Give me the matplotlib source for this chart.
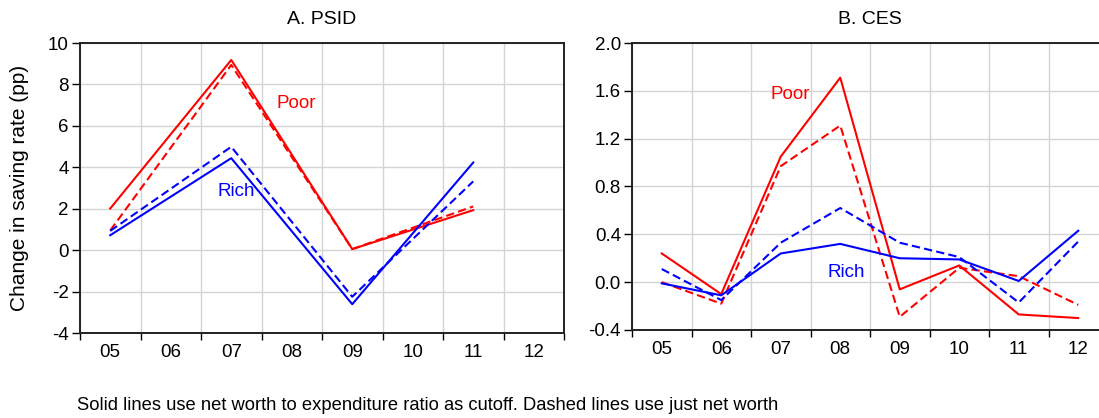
import numpy as np
import matplotlib
matplotlib.use("Agg")
import matplotlib.pyplot as plt
from matplotlib.ticker import FixedLocator, NullFormatter

plt.rcParams['font.family'] = ['Liberation Sans', 'DejaVu Sans']

years = ['05', '06', '07', '08', '09', '10', '11', '12']

# Panel A: PSID (biennial: 05, 07, 09, 11)
psid_idx = [0, 2, 4, 6]
psid_poor_solid = [2.01, 9.18, 0.05, 1.93]
psid_poor_dash = [0.95, 8.94, 0.05, 2.11]
psid_rich_solid = [0.72, 4.44, -2.61, 4.23]
psid_rich_dash = [0.93, 4.99, -2.25, 3.32]

# Panel B: CES (annual 05..12)
ces_idx = list(range(8))
ces_poor_solid = [0.24, -0.10, 1.05, 1.71, -0.06, 0.14, -0.27, -0.30]
ces_poor_dash = [0.00, -0.18, 0.97, 1.31, -0.29, 0.12, 0.05, -0.19]
ces_rich_solid = [-0.01, -0.11, 0.24, 0.32, 0.20, 0.19, 0.01, 0.43]
ces_rich_dash = [0.11, -0.15, 0.33, 0.62, 0.33, 0.21, -0.17, 0.34]

RED = '#ff0000'
BLUE = '#0000ff'
W, H = 1099, 418
FS = 13.5


def style_axes(ax, yticks, fmt):
    ax.set_xlim(-0.5, 7.5)
    ax.set_ylim(yticks[0], yticks[-1])
    ax.xaxis.set_major_locator(FixedLocator(np.arange(-0.5, 8.0, 1.0)))
    ax.xaxis.set_major_formatter(NullFormatter())
    ax.xaxis.set_minor_locator(FixedLocator(np.arange(8)))
    ax.set_xticklabels(years, minor=True)
    ax.tick_params(axis='x', which='minor', length=0, pad=8, labelsize=FS)
    ax.tick_params(axis='x', which='major', length=5, width=1, direction='out')
    ax.set_yticks(yticks)
    ax.set_yticklabels([fmt.format(v) for v in yticks])
    ax.tick_params(axis='y', length=6, width=1, direction='out', labelsize=FS, pad=2)
    ax.grid(True, which='major', color='#d4d4d4', lw=1)
    ax.set_axisbelow(True)
    for s in ax.spines.values():
        s.set_linewidth(1.4)
        s.set_color('#222222')


dash = (0, (4, 2))

fig = plt.figure(figsize=(W / 100, H / 100), dpi=100)

axA = fig.add_axes([80 / W, (H - 333) / H, 484 / W, 290 / H])
axA.plot(psid_idx, psid_poor_solid, color=RED, lw=1.5)
axA.plot(psid_idx, psid_poor_dash, color=RED, lw=1.5, ls=dash)
axA.plot(psid_idx, psid_rich_solid, color=BLUE, lw=1.5)
axA.plot(psid_idx, psid_rich_dash, color=BLUE, lw=1.5, ls=dash)
style_axes(axA, list(range(-4, 11, 2)), '{:d}')
axA.set_title('A. PSID', fontsize=14, pad=14)
axA.set_ylabel('Change in saving rate (pp)', fontsize=15)
axA.yaxis.set_label_coords(-0.105, 0.5)
axA.text(3.07, 7.1, 'Poor', color=RED, fontsize=FS, ha='center', va='center')
axA.text(2.08, 2.85, 'Rich', color=BLUE, fontsize=FS, ha='center', va='center')

axB = fig.add_axes([632 / W, (H - 330) / H, 476 / W, 287 / H])
axB.plot(ces_idx, ces_poor_solid, color=RED, lw=1.5)
axB.plot(ces_idx, ces_poor_dash, color=RED, lw=1.5, ls=dash)
axB.plot(ces_idx, ces_rich_solid, color=BLUE, lw=1.5)
axB.plot(ces_idx, ces_rich_dash, color=BLUE, lw=1.5, ls=dash)
style_axes(axB, [-0.4, 0.0, 0.4, 0.8, 1.2, 1.6, 2.0], '{:.1f}')
axB.set_title('B. CES', fontsize=14, pad=14)
axB.text(2.16, 1.57, 'Poor', color=RED, fontsize=FS, ha='center', va='center')
axB.text(3.1, 0.085, 'Rich', color=BLUE, fontsize=FS, ha='center', va='center')

fig.text(77 / W, 1 - 405 / H,
         'Solid lines use net worth to expenditure ratio as cutoff. Dashed lines use just net worth',
         fontsize=13.2, va='center', ha='left')

fig.savefig('out.png', dpi=100)
